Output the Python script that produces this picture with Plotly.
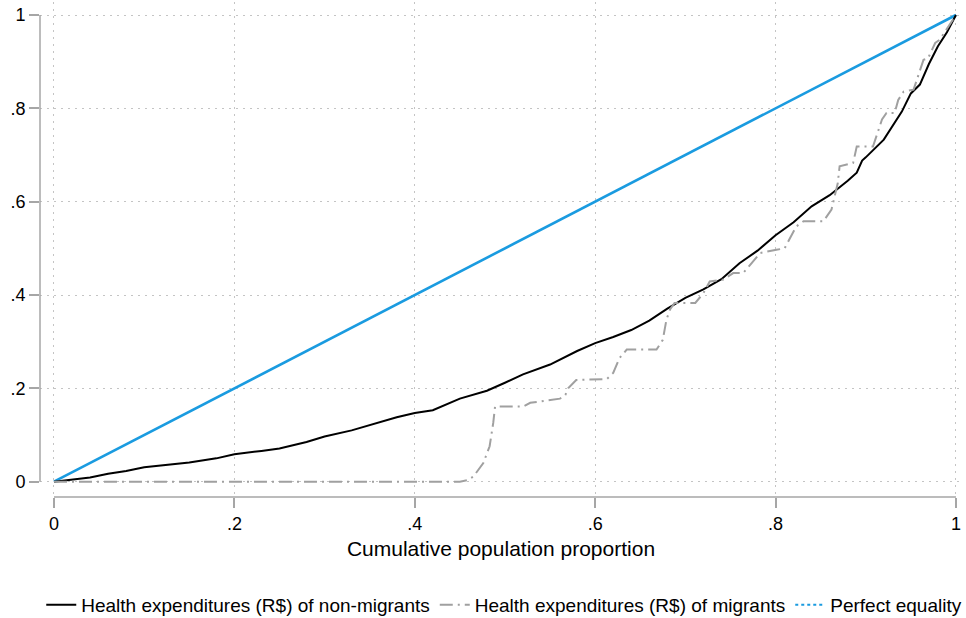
import plotly.graph_objects as go

# Lorenz curve: non-migrants
nonmig_x = [0, 0.02, 0.04, 0.06, 0.08, 0.10, 0.12, 0.15, 0.18, 0.20, 0.23, 0.25, 0.28, 0.30,
            0.33, 0.35, 0.38, 0.40, 0.42, 0.45, 0.48, 0.50, 0.52, 0.55, 0.58, 0.60, 0.62,
            0.64, 0.66, 0.68, 0.70, 0.72, 0.74, 0.76, 0.78, 0.80, 0.82, 0.84, 0.86, 0.88,
            0.89, 0.896, 0.90, 0.92, 0.94, 0.95, 0.96, 0.97, 0.98, 0.99, 1.0]
nonmig_y = [0, 0.004, 0.009, 0.017, 0.023, 0.031, 0.035, 0.041, 0.050, 0.059, 0.066, 0.071,
            0.085, 0.097, 0.110, 0.121, 0.138, 0.147, 0.153, 0.178, 0.195, 0.212, 0.230,
            0.251, 0.280, 0.297, 0.310, 0.325, 0.345, 0.371, 0.394, 0.412, 0.434, 0.468,
            0.495, 0.528, 0.556, 0.590, 0.614, 0.645, 0.662, 0.688, 0.695, 0.733, 0.793,
            0.832, 0.851, 0.895, 0.933, 0.963, 1.0]

# Lorenz curve: migrants
mig_x = [0, 0.45, 0.458, 0.465, 0.476, 0.483, 0.487, 0.489, 0.52, 0.528, 0.561, 0.567, 0.570,
         0.579, 0.613, 0.620, 0.627, 0.635, 0.668, 0.675, 0.679, 0.683, 0.688, 0.711, 0.72,
         0.727, 0.742, 0.753, 0.764, 0.783, 0.801, 0.81, 0.823, 0.831, 0.853, 0.862, 0.869,
         0.871, 0.886, 0.89, 0.908, 0.918, 0.923, 0.932, 0.936, 0.942, 0.953, 0.964, 0.969,
         0.977, 0.982, 0.988, 1.0]
mig_y = [0, 0, 0.003, 0.011, 0.040, 0.076, 0.126, 0.161, 0.161, 0.169, 0.178, 0.186, 0.200,
         0.218, 0.220, 0.233, 0.265, 0.283, 0.283, 0.304, 0.347, 0.369, 0.383, 0.383, 0.404,
         0.429, 0.433, 0.447, 0.447, 0.490, 0.497, 0.500, 0.547, 0.558, 0.558, 0.583, 0.640,
         0.676, 0.683, 0.718, 0.718, 0.776, 0.790, 0.790, 0.818, 0.836, 0.840, 0.904, 0.907,
         0.940, 0.947, 0.965, 1.0]

# Perfect equality
eq_x = [0, 1]
eq_y = [0, 1]

tick_vals = [0, 0.2, 0.4, 0.6, 0.8, 1]
tick_text = ["0", ".2", ".4", ".6", ".8", "1"]

FONT = "Liberation Sans, Arial, sans-serif"
GRID = "#c4c4c4"
AXIS = "#a6a6a6"

fig = go.Figure()
fig.add_trace(go.Scatter(x=eq_x, y=eq_y, mode="lines", showlegend=False,
                         line=dict(color="#1a9be0", width=2.6)))
fig.add_trace(go.Scatter(x=nonmig_x, y=nonmig_y, mode="lines",
                         name="Health expenditures (R$) of non-migrants",
                         line=dict(color="#000000", width=2)))
fig.add_trace(go.Scatter(x=mig_x, y=mig_y, mode="lines",
                         name="Health expenditures (R$) of migrants",
                         line=dict(color="#a0a0a0", width=2, dash="13px,5px,2px,5px")))
fig.add_trace(go.Scatter(x=[None], y=[None], mode="lines", name="Perfect equality",
                         line=dict(color="#1a9be0", width=2, dash="dot")))

fig.update_layout(
    width=966, height=618,
    margin=dict(l=40, r=4, t=2, b=121),
    paper_bgcolor="white", plot_bgcolor="white",
    font=dict(family=FONT, color="#000000", size=18),
    legend=dict(orientation="h", x=0.522, xanchor="center", xref="container",
                y=1 - 605 / 618, yanchor="middle", yref="container",
                font=dict(size=19), traceorder="normal",
                itemwidth=30, tracegroupgap=0),
    shapes=[
        dict(type="line", xref="paper", yref="y", x0=0, x1=0, y0=0, y1=1,
             line=dict(color=AXIS, width=1.5)),
        dict(type="line", xref="x", yref="paper", x0=0, x1=1, y0=0, y1=0,
             line=dict(color=AXIS, width=1.5)),
    ],
)

fig.update_xaxes(range=[-0.0155, 1.0067], tickvals=tick_vals, ticktext=tick_text,
                 ticks="outside", ticklen=10, tickcolor=AXIS, tickwidth=1.5,
                 showline=False, zeroline=False, automargin=False,
                 showgrid=True, gridcolor=GRID, griddash="2px,5px", gridwidth=1.2,
                 tickfont=dict(size=18),
                 title=dict(text="Cumulative population proportion", font=dict(size=21),
                            standoff=8))
fig.update_yaxes(range=[-0.0328, 1.0279], tickvals=tick_vals, ticktext=tick_text,
                 ticks="outside", ticklen=10, tickcolor=AXIS, tickwidth=1.5,
                 showline=False, zeroline=False, automargin=False,
                 showgrid=True, gridcolor=GRID, griddash="2px,5px", gridwidth=1.2,
                 tickfont=dict(size=18))

fig.write_html("out.html", config={"displayModeBar": False},
               post_script="document.body.style.margin='0';")
